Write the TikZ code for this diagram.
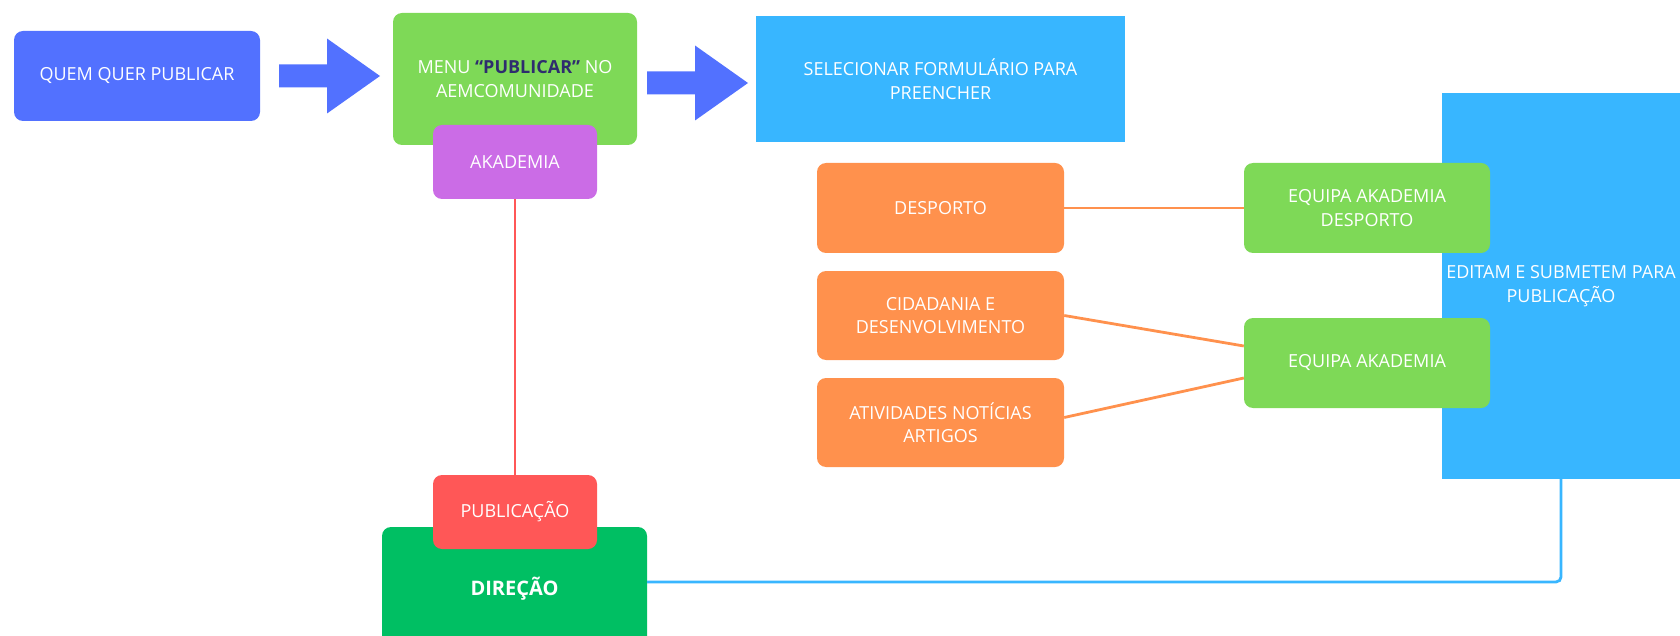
\documentclass[tikz,border=0pt]{standalone}
\usepackage{fontspec}
\setmainfont{Open Sans}
\usepackage{tikz}
\usetikzlibrary{positioning}
\definecolor{blueA}{HTML}{5271FF}
\definecolor{skyA}{HTML}{38B6FF}
\definecolor{greenA}{HTML}{7ED957}
\definecolor{greenB}{HTML}{00BF63}
\definecolor{violetA}{HTML}{CB6CE6}
\definecolor{redA}{HTML}{FF5757}
\definecolor{orangeA}{HTML}{FF914D}
\definecolor{navyA}{HTML}{2E2C6E}
\tikzset{
box/.style = {rectangle, fill = #1, draw = none, text = white, align = center, inner sep = 0pt, rounded corners = 9pt, font = \fontsize{18}{23.5}\selectfont},
flat box/.style = {box = #1, rounded corners = 0pt},
link/.style = {draw = #1, line width = 2.8pt},
}
\tikzset{
pics/block arrow/.style = {
        code = {
        \fill[blueA] (-50.5, -11.5) -- (-2.5, -11.5) -- (-2.5, -37.5) -- (50.5, 0) -- (-2.5, 37.5) -- (-2.5, 11.5) -- (-50.5, 11.5) -- cycle;
        }
    }
}

\begin{document}
\begin{tikzpicture}[x = 1pt, y = -1pt]
      \useasboundingbox (0, 0) rectangle (1680, 636);
      % first row
      \node[box = blueA, minimum width = 246pt, minimum height = 90pt] (quem) at (137, 76) {QUEM QUER PUBLICAR};
      \node[box = greenA, minimum width = 244pt, minimum height = 132pt] (menu) at (515, 79) {MENU \textcolor{navyA}{\textbf{“PUBLICAR”}} NO\\AEMCOMUNIDADE};
      \node[flat box = skyA, minimum width = 369pt, minimum height = 126pt] (form) at (940.5, 79) {SELECIONAR FORMULÁRIO PARA\\PREENCHER};
      \draw (329.5, 76) pic{block arrow};
      \draw (697.5, 83) pic{block arrow};
      % akademia column
      \node[box = violetA, minimum width = 164pt, minimum height = 74pt] (akad) at (515, 162) {AKADEMIA};
      \node[box = greenB, minimum width = 265pt, minimum height = 124pt, font = \fontsize{20}{24}\selectfont\bfseries] (dir) at (514.5, 589) {DIREÇÃO};
      \node[box = redA, minimum width = 164pt, minimum height = 74pt] (pub) at (515, 512) {PUBLICAÇÃO};
      \draw[link = redA] (akad) -- (pub);
      % forms
      \node[box = orangeA, minimum width = 247pt, minimum height = 90pt] (desp) at (940.5, 208) {DESPORTO};
      \node[box = orangeA, minimum width = 247pt, minimum height = 89pt] (cid) at (940.5, 315.5) {CIDADANIA E\\DESENVOLVIMENTO};
      \node[box = orangeA, minimum width = 247pt, minimum height = 89pt] (ativ) at (940.5, 422.5) {ATIVIDADES NOTÍCIAS\\ARTIGOS};
      % teams
      \node[flat box = skyA, minimum width = 238pt, minimum height = 386pt] (edit) at (1561, 286) {EDITAM E SUBMETEM PARA\\PUBLICAÇÃO};
      \node[box = greenA, minimum width = 246pt, minimum height = 90pt] (eqd) at (1367, 208) {EQUIPA AKADEMIA\\DESPORTO};
      \node[box = greenA, minimum width = 246pt, minimum height = 90pt] (eqa) at (1367, 363) {EQUIPA AKADEMIA};
      \draw[link = orangeA] (desp) -- (eqd);
      \draw[link = orangeA] (cid.east) -- ([yshift = 17pt]eqa.west);
      \draw[link = orangeA] ([yshift = 5pt]ativ.east) -- ([yshift = -15pt]eqa.west);
      \draw[link = skyA, rounded corners = 5pt] (edit.south) |- ([yshift = 7pt]dir.east);
    \end{tikzpicture}
\end{document}
